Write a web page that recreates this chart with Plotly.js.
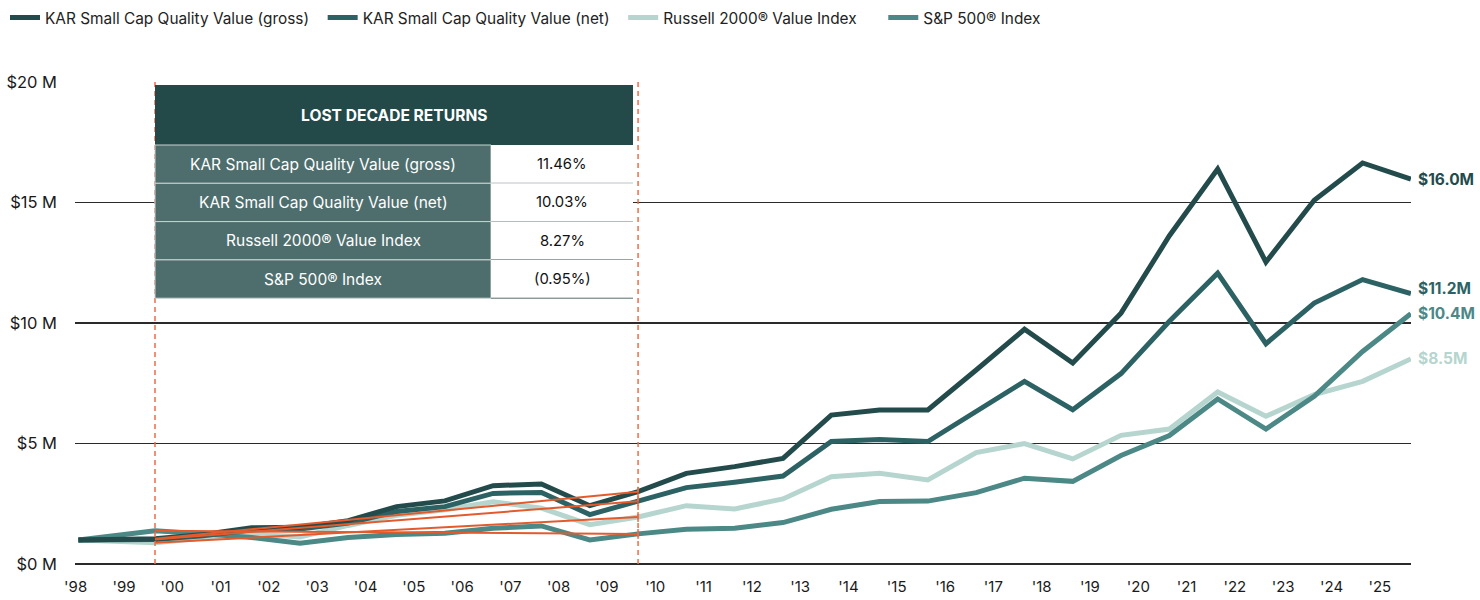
<!DOCTYPE html>
<html><head><meta charset="utf-8">
<script src="https://cdn.plot.ly/plotly-3.0.1.min.js"></script>
<style>html,body{margin:0;padding:0;background:#fff}#chart{width:1480px;height:600px}</style>
</head><body><div id="chart"></div>
<script>
// ---- data ----
const dates = ['1998-05-31','1999-12-31','2000-12-31','2001-12-31','2002-12-31','2003-12-31','2004-12-31',
  '2005-12-31','2006-12-31','2007-12-31','2008-12-31','2009-12-31','2010-12-31','2011-12-31','2012-12-31',
  '2013-12-31','2014-12-31','2015-12-31','2016-12-31','2017-12-31','2018-12-31','2019-12-31','2020-12-31',
  '2021-12-31','2022-12-31','2023-12-31','2024-12-31','2025-12-31'];
const grossValues   = [1.00,1.05,1.22,1.50,1.52,1.80,2.38,2.62,3.25,3.32,2.42,3.00,3.76,4.04,4.38,6.18,6.39,6.39,8.05,9.74,8.34,10.41,13.62,16.39,12.53,15.09,16.64,15.97];
const netValues     = [1.00,1.02,1.17,1.42,1.45,1.70,2.18,2.38,2.93,2.97,2.05,2.60,3.17,3.39,3.65,5.08,5.17,5.08,6.32,7.58,6.40,7.90,10.07,12.07,9.14,10.83,11.80,11.22];
const russellValues = [1.00,0.88,1.08,1.25,1.12,1.60,2.02,2.25,2.58,2.32,1.63,1.95,2.42,2.28,2.70,3.62,3.76,3.49,4.62,5.00,4.36,5.34,5.60,7.14,6.13,7.03,7.58,8.51];
const spValues      = [1.00,1.38,1.25,1.10,0.86,1.10,1.22,1.28,1.48,1.58,1.00,1.25,1.44,1.48,1.72,2.27,2.59,2.61,2.96,3.56,3.43,4.50,5.33,6.85,5.60,6.96,8.82,10.39];
const seriesNames = ['KAR Small Cap Quality Value (gross)','KAR Small Cap Quality Value (net)','Russell 2000® Value Index','S&P 500® Index'];
const tickYears = ['1998','1999','2000','2001','2002','2003','2004','2005','2006','2007','2008','2009','2010','2011',
  '2012','2013','2014','2015','2016','2017','2018','2019','2020','2021','2022','2023','2024','2025'];
const tickLabels = ["'98","'99","'00","'01","'02","'03","'04","'05","'06","'07","'08","'09","'10","'11",
  "'12","'13","'14","'15","'16","'17","'18","'19","'20","'21","'22","'23","'24","'25"];
const yTickVals = [0,5,10,15,20];
const yTickText = ['$0 M','$5 M','$10 M','$15 M','$20 M'];
const decadeStart = '1999-12-31', decadeEnd = '2009-12-31';
const tableTitle = 'LOST DECADE RETURNS';
const tableLabels = ['KAR Small Cap Quality Value (gross)','KAR Small Cap Quality Value (net)','Russell 2000® Value Index','S&P 500® Index'];
const tableValues = ['11.46%','10.03%','8.27%','(0.95%)'];

// ---- styles ----
const colors = ['#234b4c','#2d6264','#b5d5ce','#4b8886'];
const orange = '#e35b2d';
const FONT = 'Inter, "Noto Sans", sans-serif';
const W = 1480, H = 600, L = 75, R = 69, T = 82, B = 36;
const pw = W - L - R, ph = H - T - B;
const px = x => (x - L) / pw;
const py = y => (H - B - y) / ph;
const PADS = ['\u00A0\u00A0', '\u00A0\u00A0', '\u00A0\u00A0\u00A0\u00A0\u00A0', ''];

const allSeries = [grossValues, netValues, russellValues, spValues];
const drawOrder = [2, 3, 1, 0];
const traces = [];
drawOrder.forEach(i => {
  traces.push({
    type: 'scatter', mode: 'lines', x: dates, y: allSeries[i], name: seriesNames[i] + PADS[i],
    line: {color: colors[i], width: 5, shape: 'linear'}, legendrank: i + 1,
    hoverinfo: 'skip'
  });
});
// decade trend lines
const iS = dates.indexOf(decadeStart), iE = dates.indexOf(decadeEnd);
allSeries.forEach((s, i) => {
  traces.push({
    type: 'scatter', mode: 'lines+markers', x: [decadeStart, decadeEnd], y: [s[iS], s[iE]],
    line: {color: orange, width: 2}, showlegend: false, hoverinfo: 'skip',
    marker: {symbol: ['line-ns-open','line-ns-open'], size: [0, 7], color: orange, line: {color: orange, width: 2}}
  });
});

const shapes = [];
[decadeStart, decadeEnd].forEach(d => shapes.push({
  type: 'line', xref: 'x', yref: 'paper', x0: d, x1: d, y0: 0, y1: 1.0,
  line: {color: '#ef6c45', width: 1.5, dash: '5px,4px'}, layer: 'above'
}));
// table
const tX0 = 155, tX1 = 633, tXm = 491, hY0 = 85, hY1 = 145, rowH = 38.3;
shapes.push({type:'rect', xref:'paper', yref:'paper', x0:px(tX0), x1:px(tX1), y0:py(hY1), y1:py(hY0),
  fillcolor:'#234949', line:{width:0}, layer:'above'});
const annotations = [{
  xref:'paper', yref:'paper', x:px((tX0+tX1)/2), y:py((hY0+hY1)/2), xanchor:'center', yanchor:'middle',
  text:'<b>'+tableTitle+'</b>', showarrow:false, font:{family:FONT, size:15.6, color:'#ffffff'}
}];
tableLabels.forEach((lab, k) => {
  const y0 = hY1 + k*rowH, y1 = y0 + rowH;
  shapes.push({type:'rect', xref:'paper', yref:'paper', x0:px(tX0), x1:px(tXm), y0:py(y1), y1:py(y0),
    fillcolor:'#4e6e6d', line:{color:'#c9d3d2', width:1}, layer:'above'});
  shapes.push({type:'rect', xref:'paper', yref:'paper', x0:px(tXm), x1:px(tX1), y0:py(y1), y1:py(y0),
    fillcolor:'#ffffff', line:{width:0}, layer:'above'});
  shapes.push({type:'line', xref:'paper', yref:'paper', x0:px(tXm), x1:px(tX1), y0:py(y1), y1:py(y1),
    line:{color:'#5a6a6a', width:1}, layer:'above'});
  annotations.push({xref:'paper', yref:'paper', x:px((tX0+tXm)/2), y:py((y0+y1)/2), xanchor:'center', yanchor:'middle',
    text:lab, showarrow:false, font:{family:FONT, size:15.5, color:'#ffffff'}});
  annotations.push({xref:'paper', yref:'paper', x:px((tXm+tX1)/2), y:py((y0+y1)/2), xanchor:'center', yanchor:'middle',
    text:tableValues[k], showarrow:false, font:{family:FONT, size:14.8, color:'#111111'}});
});
// end labels
const endShift = [0, 5, 0, 0];
allSeries.forEach((s, i) => {
  const v = s[s.length-1];
  annotations.push({xref:'x', yref:'y', x: dates[dates.length-1], y: v, xanchor:'left', yanchor:'middle',
    xshift: 5, yshift: endShift[i], showarrow:false, text:'<b>$'+v.toFixed(1)+'M</b>',
    font:{family:FONT, size:15.5, color:colors[i]}});
});

const layout = {
  width: W, height: H, margin: {l:L, r:R, t:T, b:B, autoexpand:false},
  paper_bgcolor:'#ffffff', plot_bgcolor:'#ffffff',
  font: {family: FONT, color:'#1a1a1a'},
  showlegend: true,
  legend: {orientation:'h', x: px(5), xanchor:'left', y: py(18), yanchor:'middle',
    font:{family:FONT, size:15.4, color:'#222222'}, traceorder:'normal', itemwidth:30},
  xaxis: {type:'date', range:['1998-05-05','2026-01-01'], tickmode:'array',
    tickvals: tickYears.map(y => y + '-05-10'), ticktext: tickLabels,
    showgrid:false, zeroline:false, showline:false, ticks:'', ticklabelstandoff: 12,
    tickfont:{family:FONT, size:15, color:'#1a1a1a'}},
  yaxis: {range:[0,20], tickmode:'array', tickvals:yTickVals, ticktext:yTickText,
    showgrid:true, gridcolor:'#2a2a2a', gridwidth:1.2, zeroline:true, zerolinecolor:'#2a2a2a', zerolinewidth:1.2,
    showline:false, ticks:'', ticklabelstandoff: 17,
    tickfont:{family:FONT, size:16.5, color:'#1a1a1a'}},
  shapes, annotations
};
Plotly.newPlot('chart', traces, layout, {displayModeBar:false, staticPlot:true});
</script>
</body></html>
